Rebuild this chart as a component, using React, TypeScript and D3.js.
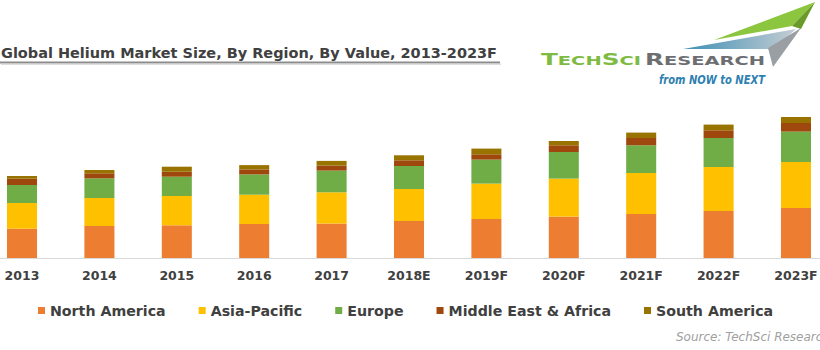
import React, { useEffect, useRef } from "react";
import * as d3 from "d3";

const years = ["2013", "2014", "2015", "2016", "2017", "2018E", "2019F", "2020F", "2021F", "2022F", "2023F"];
const northAmerica = [29.3, 32, 32.7, 34, 34.4, 37, 39, 41.4, 44, 47, 50];
const asiaPacific = [25.7, 28, 29.3, 29.3, 31.3, 32, 35.4, 38, 41, 44, 46];
const europe = [18, 19.7, 19.3, 20.3, 21.7, 23, 24, 26.6, 27.7, 29, 30.4];
const middleEastAfrica = [6.3, 5, 5, 5, 5, 5.7, 5.3, 6.7, 7.3, 7.7, 8.6];
const southAmerica = [2.7, 3.3, 5, 4.3, 4.7, 5, 5.7, 4.3, 5.4, 5.7, 6];
const seriesNames = ["North America", "Asia-Pacific", "Europe", "Middle East & Africa", "South America"];
const seriesColors = ["#ED7D31", "#FFC000", "#70AD47", "#9E480E", "#997300"];

const W = 820;
const H = 350;
const TEXT = "#404040";
const FONT = "'DejaVu Sans', Verdana, sans-serif";

export default function App() {
  const ref = useRef<SVGSVGElement | null>(null);

  useEffect(() => {
    const svg = d3.select(ref.current);
    svg.selectAll("*").remove();

    const seriesValues = [northAmerica, asiaPacific, europe, middleEastAfrica, southAmerica];
    const rows = years.map((y, i) => {
      const r: any = { year: y };
      seriesNames.forEach((n, k) => (r[n] = seriesValues[k][i]));
      return r;
    });
    const stacked = d3.stack<any>().keys(seriesNames)(rows);

    const x = d3.scaleBand<string>().domain(years).range([7, 811]).paddingInner(0.612).paddingOuter(0);
    const y = d3.scaleLinear().domain([0, 150]).range([258, 108]);

    // Title
    svg.append("text")
      .attr("x", 1).attr("y", 57.5)
      .attr("font-family", FONT).attr("font-weight", "bold").attr("font-size", 14)
      .attr("fill", TEXT)
      .attr("textLength", 496).attr("lengthAdjust", "spacingAndGlyphs")
      .text("Global Helium Market Size, By Region, By Value, 2013-2023F");
    svg.append("line").attr("x1", 0).attr("x2", 500).attr("y1", 62.5).attr("y2", 62.5)
      .attr("stroke", "#8c8c8c").attr("stroke-width", 1.8);
    svg.append("line").attr("x1", 1).attr("x2", 501).attr("y1", 64.2).attr("y2", 64.2)
      .attr("stroke", "#d0d0d0").attr("stroke-width", 1);

    // Logo
    const logo = svg.append("g");
    const grad = svg.append("defs").append("linearGradient").attr("id", "swoosh")
      .attr("x1", "0%").attr("x2", "100%").attr("y1", "0%").attr("y2", "0%");
    grad.append("stop").attr("offset", "0%").attr("stop-color", "#3d8fb5");
    grad.append("stop").attr("offset", "100%").attr("stop-color", "#c5cdd3");
    logo.append("polygon").attr("points", "683,49 796,29 774,49").attr("fill", "url(#swoosh)");
    logo.append("polygon").attr("points", "768,48 801,28 773,67").attr("fill", "#9a9fa4");
    logo.append("polygon").attr("points", "815,2 714,40 792,26").attr("fill", "#8cc63f");
    logo.append("polygon").attr("points", "815,2 792,26 801,29").attr("fill", "#6a9a2a");

    const brandParts = (x0: number, len: number, parts: [string, number][], color: string) => {
      const t = logo.append("text").attr("x", x0).attr("y", 65)
        .attr("font-family", FONT).attr("font-weight", "bold").attr("fill", color)
        .attr("textLength", len).attr("lengthAdjust", "spacingAndGlyphs");
      parts.forEach(([s, fs]) => t.append("tspan").attr("font-size", fs).text(s));
    };
    brandParts(541, 100, [["T", 16.5], ["ECH", 13], ["S", 16.5], ["CI", 13]], "#7dbb42");
    brandParts(645, 120, [["R", 16.5], ["ESEARCH", 13]], "#6d6e71");
    logo.append("text").attr("x", 765).attr("y", 83.5).attr("text-anchor", "end")
      .attr("font-family", FONT).attr("font-style", "italic").attr("font-weight", "bold")
      .attr("font-size", 11.5).attr("fill", "#2e7fb0")
      .attr("textLength", 106).attr("lengthAdjust", "spacingAndGlyphs")
      .text("from NOW to NEXT");

    // Axis line
    svg.append("line").attr("x1", 0).attr("x2", W).attr("y1", y(0) + 0.5).attr("y2", y(0) + 0.5)
      .attr("stroke", "#d9d9d9").attr("stroke-width", 1);

    // Bars
    svg.append("g").selectAll("g").data(stacked).join("g")
      .attr("fill", (_d, i) => seriesColors[i])
      .selectAll("rect").data((d) => d).join("rect")
      .attr("x", (d: any) => x(d.data.year)!)
      .attr("width", x.bandwidth())
      .attr("y", (d: any) => y(d[1]))
      .attr("height", (d: any) => y(d[0]) - y(d[1]));

    // X labels
    svg.append("g").selectAll("text").data(years).join("text")
      .attr("x", (d) => x(d)! + x.bandwidth() / 2)
      .attr("y", 280)
      .attr("text-anchor", "middle")
      .attr("font-family", FONT).attr("font-weight", "bold").attr("font-size", 12.5)
      .attr("fill", TEXT)
      .text((d) => d);

    // Legend
    const lg = svg.append("g");
    let lx = 38;
    seriesNames.forEach((n, i) => {
      lg.append("rect").attr("x", lx).attr("y", 307).attr("width", 7).attr("height", 7).attr("fill", seriesColors[i]);
      const t = lg.append("text").attr("x", lx + 12).attr("y", 315.5)
        .attr("font-family", FONT).attr("font-weight", "bold").attr("font-size", 14.2)
        .attr("fill", TEXT).text(n);
      const w = (t.node() as SVGTextElement).getComputedTextLength();
      lx = lx + 12 + w + 33;
    });

    // Source
    svg.append("text").attr("x", 676).attr("y", 340.5)
      .attr("font-family", FONT).attr("font-style", "italic").attr("font-size", 12)
      .attr("fill", "#a0a0a0").text("Source: TechSci Research");
  }, []);

  return (
    <svg ref={ref} width={W} height={H} style={{ position: "absolute", left: 0, top: 0, background: "#fff" }} />
  );
}
